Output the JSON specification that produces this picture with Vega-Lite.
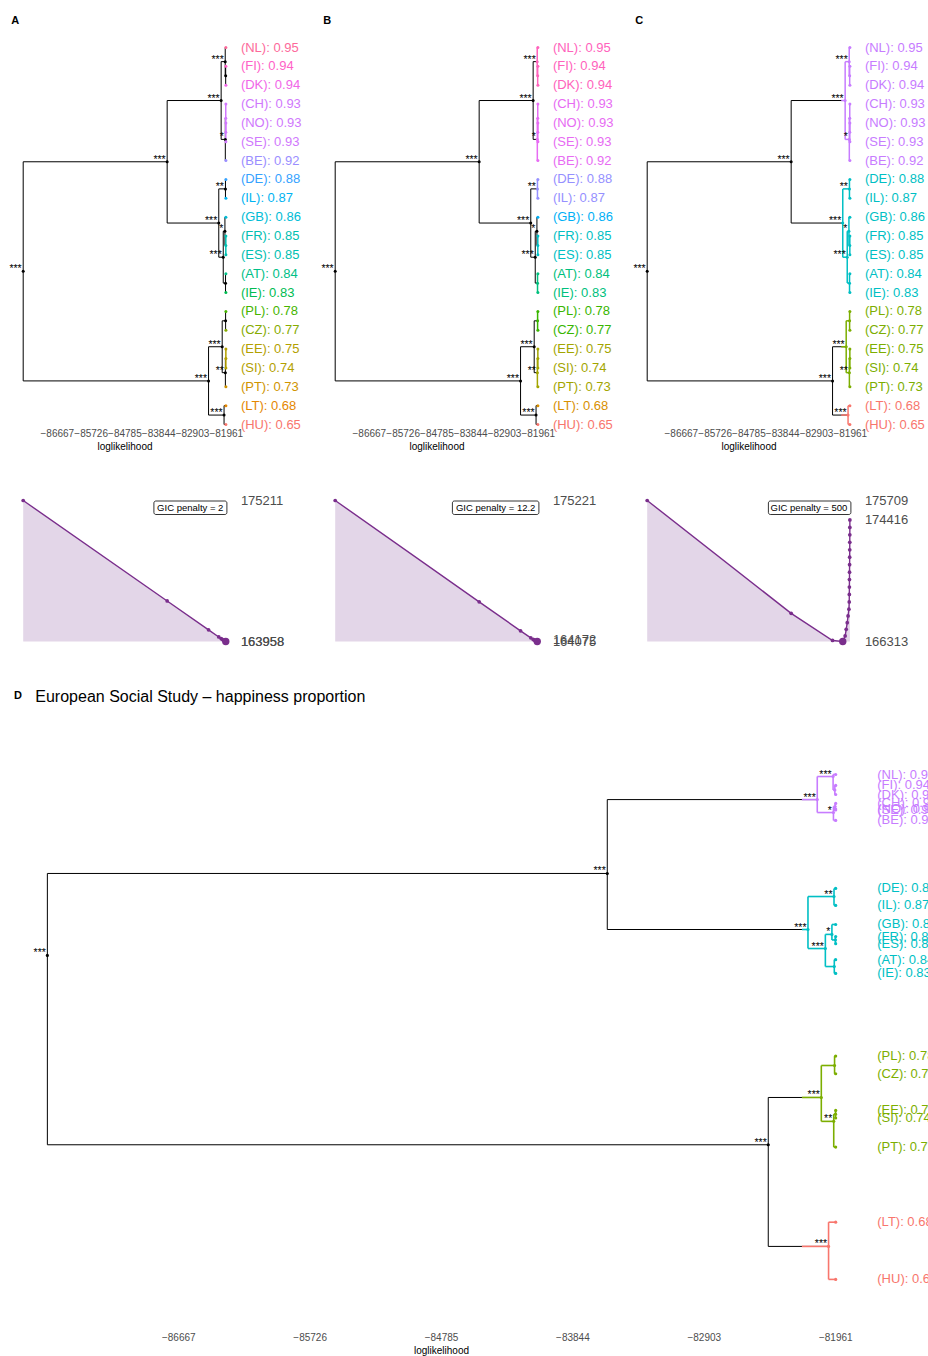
{
"$schema": "https://vega.github.io/schema/vega-lite/v6.json",
"padding": {"left": 9, "top": 14.5, "right": 0, "bottom": 0},
"config": {"view": {"stroke": null}, "font": "Liberation Sans", "axis": {"grid": false}},
"datasets": {
"edges": [{"pa":"Root","ch":"T"},{"pa":"Root","ch":"L"},{"pa":"T","ch":"P"},{"pa":"T","ch":"C"},{"pa":"P","ch":"P1"},{"pa":"P","ch":"P2"},{"pa":"P1","ch":"NL"},{"pa":"P1","ch":"FD"},{"pa":"FD","ch":"FI"},{"pa":"FD","ch":"DK"},{"pa":"P2","ch":"CNS"},{"pa":"P2","ch":"BE"},{"pa":"CNS","ch":"CH"},{"pa":"CNS","ch":"NS"},{"pa":"NS","ch":"NO"},{"pa":"NS","ch":"SE"},{"pa":"C","ch":"DI"},{"pa":"C","ch":"R"},{"pa":"DI","ch":"DE"},{"pa":"DI","ch":"IL"},{"pa":"R","ch":"GFE"},{"pa":"R","ch":"AI"},{"pa":"GFE","ch":"GB"},{"pa":"GFE","ch":"FE"},{"pa":"FE","ch":"FR"},{"pa":"FE","ch":"ES"},{"pa":"AI","ch":"AT"},{"pa":"AI","ch":"IE"},{"pa":"L","ch":"G"},{"pa":"L","ch":"LH"},{"pa":"G","ch":"PC"},{"pa":"G","ch":"ESP"},{"pa":"PC","ch":"PL"},{"pa":"PC","ch":"CZ"},{"pa":"ESP","ch":"ES2"},{"pa":"ESP","ch":"PT"},{"pa":"ES2","ch":"EE"},{"pa":"ES2","ch":"SI"},{"pa":"LH","ch":"LT"},{"pa":"LH","ch":"HU"}],
"nA": [
{"n":"Root","ll":-87604.5,"y":11.875,"col":"k","s":"***"},
{"n":"T","ll":-83594,"y":6.0625,"col":"k","s":"***"},
{"n":"L","ll":-82441,"y":17.6875,"col":"k","s":"***"},
{"n":"C","ll":-82156.5,"y":9.3125,"col":"k","s":"***"},
{"n":"P","ll":-82090,"y":2.8125,"col":"k","s":"***"},
{"n":"G","ll":-82061,"y":15.875,"col":"k","s":"***"},
{"n":"R","ll":-82032,"y":11.125,"col":"k","s":"***"},
{"n":"LH","ll":-82009,"y":19.5,"col":"k","s":"***"},
{"n":"GFE","ll":-81985,"y":9.75,"col":"k","s":"*"},
{"n":"P1","ll":-81976.5,"y":0.75,"col":"k","s":"***"},
{"n":"P2","ll":-81974,"y":4.875,"col":"k","s":"*"},
{"n":"ESP","ll":-81972,"y":17.25,"col":"k","s":"**"},
{"n":"DI","ll":-81970,"y":7.5,"col":"k","s":"**"},
{"n":"AI","ll":-81968,"y":12.5,"col":"k"},
{"n":"PC","ll":-81966,"y":14.5,"col":"k"},
{"n":"FD","ll":-81964,"y":1.5,"col":"k"},
{"n":"CNS","ll":-81962,"y":3.75,"col":"A14","cut":-81963},
{"n":"NS","ll":-81961,"y":4.5,"col":"A14"},
{"n":"FE","ll":-81960,"y":10.5,"col":"A09","cut":-81963},
{"n":"ES2","ll":-81959,"y":16.5,"col":"A04","cut":-81963},
{"n":"NL","ll":-81958,"y":0,"col":"A17","cut":-81963,"t":"(NL): 0.95"},
{"n":"FI","ll":-81958,"y":1,"col":"A16","cut":-81963,"t":"(FI): 0.94"},
{"n":"DK","ll":-81958,"y":2,"col":"A15","cut":-81963,"t":"(DK): 0.94"},
{"n":"CH","ll":-81958,"y":3,"col":"A14","t":"(CH): 0.93"},
{"n":"NO","ll":-81958,"y":4,"col":"A14","t":"(NO): 0.93"},
{"n":"SE","ll":-81958,"y":5,"col":"A14","t":"(SE): 0.93"},
{"n":"BE","ll":-81958,"y":6,"col":"A13","cut":-81963,"t":"(BE): 0.92"},
{"n":"DE","ll":-81958,"y":7,"col":"A12","cut":-81963,"t":"(DE): 0.88"},
{"n":"IL","ll":-81958,"y":8,"col":"A11","cut":-81963,"t":"(IL): 0.87"},
{"n":"GB","ll":-81958,"y":9,"col":"A10","cut":-81963,"t":"(GB): 0.86"},
{"n":"FR","ll":-81958,"y":10,"col":"A09","t":"(FR): 0.85"},
{"n":"ES","ll":-81958,"y":11,"col":"A09","t":"(ES): 0.85"},
{"n":"AT","ll":-81958,"y":12,"col":"A08","cut":-81963,"t":"(AT): 0.84"},
{"n":"IE","ll":-81958,"y":13,"col":"A07","cut":-81963,"t":"(IE): 0.83"},
{"n":"PL","ll":-81958,"y":14,"col":"A06","cut":-81963,"t":"(PL): 0.78"},
{"n":"CZ","ll":-81958,"y":15,"col":"A05","cut":-81963,"t":"(CZ): 0.77"},
{"n":"EE","ll":-81958,"y":16,"col":"A04","t":"(EE): 0.75"},
{"n":"SI","ll":-81958,"y":17,"col":"A04","t":"(SI): 0.74"},
{"n":"PT","ll":-81958,"y":18,"col":"A03","cut":-81963,"t":"(PT): 0.73"},
{"n":"LT","ll":-81958,"y":19,"col":"A02","cut":-81963,"t":"(LT): 0.68"},
{"n":"HU","ll":-81958,"y":20,"col":"A01","cut":-81963,"t":"(HU): 0.65"}
],
"nB": [
{"n":"Root","ll":-87604.5,"y":11.875,"col":"k","s":"***"},
{"n":"T","ll":-83594,"y":6.0625,"col":"k","s":"***"},
{"n":"L","ll":-82441,"y":17.6875,"col":"k","s":"***"},
{"n":"C","ll":-82156.5,"y":9.3125,"col":"k","s":"***"},
{"n":"P","ll":-82090,"y":2.8125,"col":"k","s":"***"},
{"n":"G","ll":-82061,"y":15.875,"col":"k","s":"***"},
{"n":"R","ll":-82032,"y":11.125,"col":"k","s":"***"},
{"n":"LH","ll":-82009,"y":19.5,"col":"k","s":"***"},
{"n":"GFE","ll":-81985,"y":9.75,"col":"k","s":"*"},
{"n":"P1","ll":-81976.5,"y":0.75,"col":"B10","cut":-81980,"s":"***"},
{"n":"P2","ll":-81974,"y":4.875,"col":"B09","cut":-81980,"s":"*"},
{"n":"ESP","ll":-81972,"y":17.25,"col":"B03","cut":-81980,"s":"**"},
{"n":"DI","ll":-81970,"y":7.5,"col":"B08","cut":-81980,"s":"**"},
{"n":"AI","ll":-81968,"y":12.5,"col":"B05","cut":-81980},
{"n":"PC","ll":-81966,"y":14.5,"col":"B04","cut":-81980},
{"n":"FD","ll":-81964,"y":1.5,"col":"B10"},
{"n":"CNS","ll":-81962,"y":3.75,"col":"B09"},
{"n":"NS","ll":-81961,"y":4.5,"col":"B09"},
{"n":"FE","ll":-81960,"y":10.5,"col":"B06","cut":-81980},
{"n":"ES2","ll":-81959,"y":16.5,"col":"B03"},
{"n":"NL","ll":-81958,"y":0,"col":"B10","t":"(NL): 0.95"},
{"n":"FI","ll":-81958,"y":1,"col":"B10","t":"(FI): 0.94"},
{"n":"DK","ll":-81958,"y":2,"col":"B10","t":"(DK): 0.94"},
{"n":"CH","ll":-81958,"y":3,"col":"B09","t":"(CH): 0.93"},
{"n":"NO","ll":-81958,"y":4,"col":"B09","t":"(NO): 0.93"},
{"n":"SE","ll":-81958,"y":5,"col":"B09","t":"(SE): 0.93"},
{"n":"BE","ll":-81958,"y":6,"col":"B09","t":"(BE): 0.92"},
{"n":"DE","ll":-81958,"y":7,"col":"B08","t":"(DE): 0.88"},
{"n":"IL","ll":-81958,"y":8,"col":"B08","t":"(IL): 0.87"},
{"n":"GB","ll":-81958,"y":9,"col":"B07","cut":-81980,"t":"(GB): 0.86"},
{"n":"FR","ll":-81958,"y":10,"col":"B06","t":"(FR): 0.85"},
{"n":"ES","ll":-81958,"y":11,"col":"B06","t":"(ES): 0.85"},
{"n":"AT","ll":-81958,"y":12,"col":"B05","t":"(AT): 0.84"},
{"n":"IE","ll":-81958,"y":13,"col":"B05","t":"(IE): 0.83"},
{"n":"PL","ll":-81958,"y":14,"col":"B04","t":"(PL): 0.78"},
{"n":"CZ","ll":-81958,"y":15,"col":"B04","t":"(CZ): 0.77"},
{"n":"EE","ll":-81958,"y":16,"col":"B03","t":"(EE): 0.75"},
{"n":"SI","ll":-81958,"y":17,"col":"B03","t":"(SI): 0.74"},
{"n":"PT","ll":-81958,"y":18,"col":"B03","t":"(PT): 0.73"},
{"n":"LT","ll":-81958,"y":19,"col":"B02","cut":-81980,"t":"(LT): 0.68"},
{"n":"HU","ll":-81958,"y":20,"col":"B01","cut":-81980,"t":"(HU): 0.65"}
],
"nC": [
{"n":"Root","ll":-87604.5,"y":11.875,"col":"k","s":"***"},
{"n":"T","ll":-83594,"y":6.0625,"col":"k","s":"***"},
{"n":"L","ll":-82441,"y":17.6875,"col":"k","s":"***"},
{"n":"C","ll":-82156.5,"y":9.3125,"col":"C3","cut":-82200,"s":"***"},
{"n":"P","ll":-82090,"y":2.8125,"col":"C4","cut":-82200,"s":"***"},
{"n":"G","ll":-82061,"y":15.875,"col":"C2","cut":-82200,"s":"***"},
{"n":"R","ll":-82032,"y":11.125,"col":"C3","s":"***"},
{"n":"LH","ll":-82009,"y":19.5,"col":"C1","cut":-82200,"s":"***"},
{"n":"GFE","ll":-81985,"y":9.75,"col":"C3","s":"*"},
{"n":"P1","ll":-81976.5,"y":0.75,"col":"C4","s":"***"},
{"n":"P2","ll":-81974,"y":4.875,"col":"C4","s":"*"},
{"n":"ESP","ll":-81972,"y":17.25,"col":"C2","s":"**"},
{"n":"DI","ll":-81970,"y":7.5,"col":"C3","s":"**"},
{"n":"AI","ll":-81968,"y":12.5,"col":"C3"},
{"n":"PC","ll":-81966,"y":14.5,"col":"C2"},
{"n":"FD","ll":-81964,"y":1.5,"col":"C4"},
{"n":"CNS","ll":-81962,"y":3.75,"col":"C4"},
{"n":"NS","ll":-81961,"y":4.5,"col":"C4"},
{"n":"FE","ll":-81960,"y":10.5,"col":"C3"},
{"n":"ES2","ll":-81959,"y":16.5,"col":"C2"},
{"n":"NL","ll":-81958,"y":0,"col":"C4","t":"(NL): 0.95"},
{"n":"FI","ll":-81958,"y":1,"col":"C4","t":"(FI): 0.94"},
{"n":"DK","ll":-81958,"y":2,"col":"C4","t":"(DK): 0.94"},
{"n":"CH","ll":-81958,"y":3,"col":"C4","t":"(CH): 0.93"},
{"n":"NO","ll":-81958,"y":4,"col":"C4","t":"(NO): 0.93"},
{"n":"SE","ll":-81958,"y":5,"col":"C4","t":"(SE): 0.93"},
{"n":"BE","ll":-81958,"y":6,"col":"C4","t":"(BE): 0.92"},
{"n":"DE","ll":-81958,"y":7,"col":"C3","t":"(DE): 0.88"},
{"n":"IL","ll":-81958,"y":8,"col":"C3","t":"(IL): 0.87"},
{"n":"GB","ll":-81958,"y":9,"col":"C3","t":"(GB): 0.86"},
{"n":"FR","ll":-81958,"y":10,"col":"C3","t":"(FR): 0.85"},
{"n":"ES","ll":-81958,"y":11,"col":"C3","t":"(ES): 0.85"},
{"n":"AT","ll":-81958,"y":12,"col":"C3","t":"(AT): 0.84"},
{"n":"IE","ll":-81958,"y":13,"col":"C3","t":"(IE): 0.83"},
{"n":"PL","ll":-81958,"y":14,"col":"C2","t":"(PL): 0.78"},
{"n":"CZ","ll":-81958,"y":15,"col":"C2","t":"(CZ): 0.77"},
{"n":"EE","ll":-81958,"y":16,"col":"C2","t":"(EE): 0.75"},
{"n":"SI","ll":-81958,"y":17,"col":"C2","t":"(SI): 0.74"},
{"n":"PT","ll":-81958,"y":18,"col":"C2","t":"(PT): 0.73"},
{"n":"LT","ll":-81958,"y":19,"col":"C1","t":"(LT): 0.68"},
{"n":"HU","ll":-81958,"y":20,"col":"C1","t":"(HU): 0.65"}
],
"nD": [
{"n":"Root","ll":-87604.5,"y":0.8425,"col":"k","s":"***"},
{"n":"T","ll":-83594,"y":0.8912,"col":"k","s":"***"},
{"n":"L","ll":-82441,"y":0.73,"col":"k","s":"***"},
{"n":"C","ll":-82156.5,"y":0.8579,"col":"C3","cut":-82200,"s":"***"},
{"n":"P","ll":-82090,"y":0.9351,"col":"C4","cut":-82200,"s":"***"},
{"n":"G","ll":-82061,"y":0.7581,"col":"C2","cut":-82200,"s":"***"},
{"n":"R","ll":-82032,"y":0.8466,"col":"C3","s":"***"},
{"n":"LH","ll":-82009,"y":0.6696,"col":"C1","cut":-82200,"s":"***"},
{"n":"GFE","ll":-81985,"y":0.855,"col":"C3","s":"*"},
{"n":"P1","ll":-81976.5,"y":0.9488,"col":"C4","s":"***"},
{"n":"P2","ll":-81974,"y":0.9274,"col":"C4","s":"*"},
{"n":"ESP","ll":-81972,"y":0.7439,"col":"C2","s":"**"},
{"n":"DI","ll":-81970,"y":0.8775,"col":"C3","s":"**"},
{"n":"AI","ll":-81968,"y":0.8359,"col":"C3"},
{"n":"PC","ll":-81966,"y":0.7771,"col":"C2"},
{"n":"FD","ll":-81964,"y":0.9408,"col":"C4"},
{"n":"CNS","ll":-81962,"y":0.931,"col":"C4"},
{"n":"NS","ll":-81961,"y":0.9292,"col":"C4"},
{"n":"FE","ll":-81960,"y":0.8517,"col":"C3"},
{"n":"ES2","ll":-81959,"y":0.7482,"col":"C2"},
{"n":"NL","ll":-81958,"y":0.95,"col":"C4","t":"(NL): 0.95"},
{"n":"FI","ll":-81958,"y":0.9435,"col":"C4","t":"(FI): 0.94"},
{"n":"DK","ll":-81958,"y":0.9381,"col":"C4","t":"(DK): 0.94"},
{"n":"CH","ll":-81958,"y":0.9328,"col":"C4","t":"(CH): 0.93"},
{"n":"NO","ll":-81958,"y":0.9295,"col":"C4","t":"(NO): 0.93"},
{"n":"SE","ll":-81958,"y":0.9289,"col":"C4","t":"(SE): 0.93"},
{"n":"BE","ll":-81958,"y":0.9227,"col":"C4","t":"(BE): 0.92"},
{"n":"DE","ll":-81958,"y":0.8823,"col":"C3","t":"(DE): 0.88"},
{"n":"IL","ll":-81958,"y":0.8722,"col":"C3","t":"(IL): 0.87"},
{"n":"GB","ll":-81958,"y":0.8609,"col":"C3","t":"(GB): 0.86"},
{"n":"FR","ll":-81958,"y":0.8537,"col":"C3","t":"(FR): 0.85"},
{"n":"ES","ll":-81958,"y":0.8495,"col":"C3","t":"(ES): 0.85"},
{"n":"AT","ll":-81958,"y":0.84,"col":"C3","t":"(AT): 0.84"},
{"n":"IE","ll":-81958,"y":0.8318,"col":"C3","t":"(IE): 0.83"},
{"n":"PL","ll":-81958,"y":0.7827,"col":"C2","t":"(PL): 0.78"},
{"n":"CZ","ll":-81958,"y":0.7722,"col":"C2","t":"(CZ): 0.77"},
{"n":"EE","ll":-81958,"y":0.7504,"col":"C2","t":"(EE): 0.75"},
{"n":"SI","ll":-81958,"y":0.7459,"col":"C2","t":"(SI): 0.74"},
{"n":"PT","ll":-81958,"y":0.7286,"col":"C2","t":"(PT): 0.73"},
{"n":"LT","ll":-81958,"y":0.684,"col":"C1","t":"(LT): 0.68"},
{"n":"HU","ll":-81958,"y":0.65,"col":"C1","t":"(HU): 0.65"}
],
"gic": [
{"p":"A","k":1,"ll":-87604.5,"g":175211},{"p":"A","k":2,"ll":-83594,"g":167192},{"p":"A","k":3,"ll":-82441,"g":164888},{"p":"A","k":4,"ll":-82156.5,"g":164321},{"p":"A","k":5,"ll":-82090,"g":164190},{"p":"A","k":6,"ll":-82061,"g":164134},{"p":"A","k":7,"ll":-82032,"g":164078},{"p":"A","k":8,"ll":-82009,"g":164034},{"p":"A","k":9,"ll":-81985,"g":163988},{"p":"A","k":10,"ll":-81976.5,"g":163973},{"p":"A","k":11,"ll":-81974,"g":163970},{"p":"A","k":12,"ll":-81972,"g":163968},{"p":"A","k":13,"ll":-81970,"g":163966},{"p":"A","k":14,"ll":-81968,"g":163964},{"p":"A","k":15,"ll":-81966,"g":163962},{"p":"A","k":16,"ll":-81964,"g":163960},{"p":"A","k":17,"ll":-81962,"g":163958,"m":1},{"p":"A","k":18,"ll":-81961,"g":163958},{"p":"A","k":19,"ll":-81960,"g":163958},{"p":"A","k":20,"ll":-81959,"g":163958},{"p":"A","k":21,"ll":-81958,"g":163958},
{"p":"B","k":1,"ll":-87604.5,"g":175221.2},{"p":"B","k":2,"ll":-83594,"g":167212.4},{"p":"B","k":3,"ll":-82441,"g":164918.6},{"p":"B","k":4,"ll":-82156.5,"g":164361.8},{"p":"B","k":5,"ll":-82090,"g":164241},{"p":"B","k":6,"ll":-82061,"g":164195.2},{"p":"B","k":7,"ll":-82032,"g":164149.4},{"p":"B","k":8,"ll":-82009,"g":164115.6},{"p":"B","k":9,"ll":-81985,"g":164079.8},{"p":"B","k":10,"ll":-81976.5,"g":164075,"m":1},{"p":"B","k":11,"ll":-81974,"g":164082.2},{"p":"B","k":12,"ll":-81972,"g":164090.4},{"p":"B","k":13,"ll":-81970,"g":164098.6},{"p":"B","k":14,"ll":-81968,"g":164106.8},{"p":"B","k":15,"ll":-81966,"g":164115},{"p":"B","k":16,"ll":-81964,"g":164123.2},{"p":"B","k":17,"ll":-81962,"g":164131.4},{"p":"B","k":18,"ll":-81961,"g":164141.6},{"p":"B","k":19,"ll":-81960,"g":164151.8},{"p":"B","k":20,"ll":-81959,"g":164162},{"p":"B","k":21,"ll":-81958,"g":164172.2},
{"p":"C","k":1,"ll":-87604.5,"g":175709},{"p":"C","k":2,"ll":-83594,"g":168188},{"p":"C","k":3,"ll":-82441,"g":166382},{"p":"C","k":4,"ll":-82156.5,"g":166313,"m":1},{"p":"C","k":5,"ll":-82090,"g":166680},{"p":"C","k":6,"ll":-82061,"g":167122},{"p":"C","k":7,"ll":-82032,"g":167564},{"p":"C","k":8,"ll":-82009,"g":168018},{"p":"C","k":9,"ll":-81985,"g":168470},{"p":"C","k":10,"ll":-81976.5,"g":168953},{"p":"C","k":11,"ll":-81974,"g":169448},{"p":"C","k":12,"ll":-81972,"g":169944},{"p":"C","k":13,"ll":-81970,"g":170440},{"p":"C","k":14,"ll":-81968,"g":170936},{"p":"C","k":15,"ll":-81966,"g":171432},{"p":"C","k":16,"ll":-81964,"g":171928},{"p":"C","k":17,"ll":-81962,"g":172424},{"p":"C","k":18,"ll":-81961,"g":172922},{"p":"C","k":19,"ll":-81960,"g":173420},{"p":"C","k":20,"ll":-81959,"g":173918},{"p":"C","k":21,"ll":-81958,"g":174416}
],
"gicBox": [
{"p":"A","ll":-81958,"g":175211,"t":"GIC penalty = 2"},
{"p":"B","ll":-81958,"g":175221.2,"t":"GIC penalty = 12.2"},
{"p":"C","ll":-81958,"g":175709,"t":"GIC penalty = 500"}
],
"gicLab": [
{"p":"A","ll":-81958,"g":175211,"t":"175211"},{"p":"A","ll":-81958,"g":163958,"t":"163958"},{"p":"A","ll":-81958,"g":163958,"t":"163958"},
{"p":"B","ll":-81958,"g":175221.2,"t":"175221"},{"p":"B","ll":-81958,"g":164075,"t":"164075"},{"p":"B","ll":-81958,"g":164172.2,"t":"164172"},
{"p":"C","ll":-81958,"g":175709,"t":"175709"},{"p":"C","ll":-81958,"g":174416,"t":"174416"},{"p":"C","ll":-81958,"g":166313,"t":"166313"}
]
},
"columns": 3,
"align": "none",
"bounds": "flush",
"spacing": {"row": 76, "column": 109},
"resolve": {"scale": {"x": "independent", "y": "independent", "color": "independent"}},
"concat": [
{
"width": 203, "height": 377,
"title": {"text": "A", "anchor": "start", "frame": "group", "dx": -11.7, "offset": 16, "fontSize": 11, "fontWeight": "bold", "font": "Liberation Sans", "color": "#000000"},
"encoding": {
"x": {"field": "ll", "type": "quantitative", "scale": {"domain": [-87610, -81955], "nice": false, "zero": false}, "axis": {"values": [-86667,-85726,-84785,-83844,-82903,-81961], "format": "d", "title": "loglikelihood", "domain": false, "ticks": false, "grid": false, "labelFont": "Liberation Sans", "labelFontSize": 10, "labelColor": "#4D4D4D", "labelPadding": 4, "labelOverlap": false, "labelFlush": false, "labelBound": false, "titleFont": "Liberation Sans", "titleFontSize": 10, "titleFontWeight": "normal", "titleColor": "#000000", "titlePadding": 3}},
"y": {"field": "y", "type": "quantitative", "scale": {"domain": [0, 20], "reverse": true, "nice": false, "zero": false}, "axis": null},
"color": {"field": "col", "type": "nominal", "legend": null, "scale": {"domain": ["k","A01","A02","A03","A04","A05","A06","A07","A08","A09","A10","A11","A12","A13","A14","A15","A16","A17","B01","B02","B03","B04","B05","B06","B07","B08","B09","B10","C1","C2","C3","C4"], "range": ["#000000","#F8766D","#E58700","#D09400","#B3A000","#87AC00","#46B500","#00BC51","#00C087","#00C0B2","#00BCD6","#00B3F2","#35A2FF","#9A8EFF","#D078FD","#F166E8","#FF61C7","#FD6A9B","#F8766D","#D89000","#A3A500","#39B600","#00BF7D","#00BFC4","#00B0F6","#9590FF","#E76BF3","#FF62BC","#F8766D","#7CAE00","#00BFC4","#C77CFF"]}}
},
"layer": [
{"data": {"name": "edges"}, "transform": [{"lookup": "pa", "from": {"data": {"name": "nA"}, "key": "n", "fields": ["ll", "y", "col"]}}, {"lookup": "ch", "from": {"data": {"name": "nA"}, "key": "n", "fields": ["y"]}, "as": ["cy"]}], "mark": {"type": "rule"}, "encoding": {"y2": {"field": "cy"}, "strokeWidth": {"condition": {"test": "datum.col != 'k'", "value": 1.5}, "value": 1}}},
{"data": {"name": "edges"}, "transform": [{"lookup": "pa", "from": {"data": {"name": "nA"}, "key": "n", "fields": ["ll", "col"]}}, {"lookup": "ch", "from": {"data": {"name": "nA"}, "key": "n", "fields": ["ll", "y"]}, "as": ["cll", "y"]}], "mark": {"type": "rule"}, "encoding": {"x2": {"field": "cll"}, "strokeWidth": {"condition": {"test": "datum.col != 'k'", "value": 1.5}, "value": 1}}},
{"data": {"name": "edges"}, "transform": [{"lookup": "ch", "from": {"data": {"name": "nA"}, "key": "n", "fields": ["cut", "ll", "y", "col"]}, "as": ["ll", "cll", "y", "col"]}, {"filter": "isValid(datum.ll)"}], "mark": {"type": "rule", "strokeWidth": 1.5}, "encoding": {"x2": {"field": "cll"}}},
{"data": {"name": "nA"}, "mark": {"type": "circle", "size": 9, "opacity": 1}},
{"data": {"name": "nA"}, "transform": [{"filter": "isValid(datum.s)"}], "mark": {"type": "text", "align": "right", "baseline": "middle", "dx": -1.5, "dy": -2, "fontSize": 10.5, "font": "Liberation Sans"}, "encoding": {"text": {"field": "s"}, "color": {"value": "#000000"}}},
{"data": {"name": "nA"}, "transform": [{"filter": "isValid(datum.t)"}], "mark": {"type": "text", "align": "left", "baseline": "middle", "dx": 15, "fontSize": 13, "font": "Liberation Sans"}, "encoding": {"text": {"field": "t"}}}
]
},
{
"width": 203, "height": 377,
"title": {"text": "B", "anchor": "start", "frame": "group", "dx": -11.7, "offset": 16, "fontSize": 11, "fontWeight": "bold", "font": "Liberation Sans", "color": "#000000"},
"encoding": {
"x": {"field": "ll", "type": "quantitative", "scale": {"domain": [-87610, -81955], "nice": false, "zero": false}, "axis": {"values": [-86667,-85726,-84785,-83844,-82903,-81961], "format": "d", "title": "loglikelihood", "domain": false, "ticks": false, "grid": false, "labelFont": "Liberation Sans", "labelFontSize": 10, "labelColor": "#4D4D4D", "labelPadding": 4, "labelOverlap": false, "labelFlush": false, "labelBound": false, "titleFont": "Liberation Sans", "titleFontSize": 10, "titleFontWeight": "normal", "titleColor": "#000000", "titlePadding": 3}},
"y": {"field": "y", "type": "quantitative", "scale": {"domain": [0, 20], "reverse": true, "nice": false, "zero": false}, "axis": null},
"color": {"field": "col", "type": "nominal", "legend": null, "scale": {"domain": ["k","A01","A02","A03","A04","A05","A06","A07","A08","A09","A10","A11","A12","A13","A14","A15","A16","A17","B01","B02","B03","B04","B05","B06","B07","B08","B09","B10","C1","C2","C3","C4"], "range": ["#000000","#F8766D","#E58700","#D09400","#B3A000","#87AC00","#46B500","#00BC51","#00C087","#00C0B2","#00BCD6","#00B3F2","#35A2FF","#9A8EFF","#D078FD","#F166E8","#FF61C7","#FD6A9B","#F8766D","#D89000","#A3A500","#39B600","#00BF7D","#00BFC4","#00B0F6","#9590FF","#E76BF3","#FF62BC","#F8766D","#7CAE00","#00BFC4","#C77CFF"]}}
},
"layer": [
{"data": {"name": "edges"}, "transform": [{"lookup": "pa", "from": {"data": {"name": "nB"}, "key": "n", "fields": ["ll", "y", "col"]}}, {"lookup": "ch", "from": {"data": {"name": "nB"}, "key": "n", "fields": ["y"]}, "as": ["cy"]}], "mark": {"type": "rule"}, "encoding": {"y2": {"field": "cy"}, "strokeWidth": {"condition": {"test": "datum.col != 'k'", "value": 1.5}, "value": 1}}},
{"data": {"name": "edges"}, "transform": [{"lookup": "pa", "from": {"data": {"name": "nB"}, "key": "n", "fields": ["ll", "col"]}}, {"lookup": "ch", "from": {"data": {"name": "nB"}, "key": "n", "fields": ["ll", "y"]}, "as": ["cll", "y"]}], "mark": {"type": "rule"}, "encoding": {"x2": {"field": "cll"}, "strokeWidth": {"condition": {"test": "datum.col != 'k'", "value": 1.5}, "value": 1}}},
{"data": {"name": "edges"}, "transform": [{"lookup": "ch", "from": {"data": {"name": "nB"}, "key": "n", "fields": ["cut", "ll", "y", "col"]}, "as": ["ll", "cll", "y", "col"]}, {"filter": "isValid(datum.ll)"}], "mark": {"type": "rule", "strokeWidth": 1.5}, "encoding": {"x2": {"field": "cll"}}},
{"data": {"name": "nB"}, "mark": {"type": "circle", "size": 9, "opacity": 1}},
{"data": {"name": "nB"}, "transform": [{"filter": "isValid(datum.s)"}], "mark": {"type": "text", "align": "right", "baseline": "middle", "dx": -1.5, "dy": -2, "fontSize": 10.5, "font": "Liberation Sans"}, "encoding": {"text": {"field": "s"}, "color": {"value": "#000000"}}},
{"data": {"name": "nB"}, "transform": [{"filter": "isValid(datum.t)"}], "mark": {"type": "text", "align": "left", "baseline": "middle", "dx": 15, "fontSize": 13, "font": "Liberation Sans"}, "encoding": {"text": {"field": "t"}}}
]
},
{
"width": 203, "height": 377,
"title": {"text": "C", "anchor": "start", "frame": "group", "dx": -11.7, "offset": 16, "fontSize": 11, "fontWeight": "bold", "font": "Liberation Sans", "color": "#000000"},
"encoding": {
"x": {"field": "ll", "type": "quantitative", "scale": {"domain": [-87610, -81955], "nice": false, "zero": false}, "axis": {"values": [-86667,-85726,-84785,-83844,-82903,-81961], "format": "d", "title": "loglikelihood", "domain": false, "ticks": false, "grid": false, "labelFont": "Liberation Sans", "labelFontSize": 10, "labelColor": "#4D4D4D", "labelPadding": 4, "labelOverlap": false, "labelFlush": false, "labelBound": false, "titleFont": "Liberation Sans", "titleFontSize": 10, "titleFontWeight": "normal", "titleColor": "#000000", "titlePadding": 3}},
"y": {"field": "y", "type": "quantitative", "scale": {"domain": [0, 20], "reverse": true, "nice": false, "zero": false}, "axis": null},
"color": {"field": "col", "type": "nominal", "legend": null, "scale": {"domain": ["k","A01","A02","A03","A04","A05","A06","A07","A08","A09","A10","A11","A12","A13","A14","A15","A16","A17","B01","B02","B03","B04","B05","B06","B07","B08","B09","B10","C1","C2","C3","C4"], "range": ["#000000","#F8766D","#E58700","#D09400","#B3A000","#87AC00","#46B500","#00BC51","#00C087","#00C0B2","#00BCD6","#00B3F2","#35A2FF","#9A8EFF","#D078FD","#F166E8","#FF61C7","#FD6A9B","#F8766D","#D89000","#A3A500","#39B600","#00BF7D","#00BFC4","#00B0F6","#9590FF","#E76BF3","#FF62BC","#F8766D","#7CAE00","#00BFC4","#C77CFF"]}}
},
"layer": [
{"data": {"name": "edges"}, "transform": [{"lookup": "pa", "from": {"data": {"name": "nC"}, "key": "n", "fields": ["ll", "y", "col"]}}, {"lookup": "ch", "from": {"data": {"name": "nC"}, "key": "n", "fields": ["y"]}, "as": ["cy"]}], "mark": {"type": "rule"}, "encoding": {"y2": {"field": "cy"}, "strokeWidth": {"condition": {"test": "datum.col != 'k'", "value": 1.5}, "value": 1}}},
{"data": {"name": "edges"}, "transform": [{"lookup": "pa", "from": {"data": {"name": "nC"}, "key": "n", "fields": ["ll", "col"]}}, {"lookup": "ch", "from": {"data": {"name": "nC"}, "key": "n", "fields": ["ll", "y"]}, "as": ["cll", "y"]}], "mark": {"type": "rule"}, "encoding": {"x2": {"field": "cll"}, "strokeWidth": {"condition": {"test": "datum.col != 'k'", "value": 1.5}, "value": 1}}},
{"data": {"name": "edges"}, "transform": [{"lookup": "ch", "from": {"data": {"name": "nC"}, "key": "n", "fields": ["cut", "ll", "y", "col"]}, "as": ["ll", "cll", "y", "col"]}, {"filter": "isValid(datum.ll)"}], "mark": {"type": "rule", "strokeWidth": 1.5}, "encoding": {"x2": {"field": "cll"}}},
{"data": {"name": "nC"}, "mark": {"type": "circle", "size": 9, "opacity": 1}},
{"data": {"name": "nC"}, "transform": [{"filter": "isValid(datum.s)"}], "mark": {"type": "text", "align": "right", "baseline": "middle", "dx": -1.5, "dy": -2, "fontSize": 10.5, "font": "Liberation Sans"}, "encoding": {"text": {"field": "s"}, "color": {"value": "#000000"}}},
{"data": {"name": "nC"}, "transform": [{"filter": "isValid(datum.t)"}], "mark": {"type": "text", "align": "left", "baseline": "middle", "dx": 15, "fontSize": 13, "font": "Liberation Sans"}, "encoding": {"text": {"field": "t"}}}
]
},
{
"width": 203, "height": 141,
"encoding": {
"x": {"field": "ll", "type": "quantitative", "scale": {"domain": [-87610, -81955], "nice": false, "zero": false}, "axis": null},
"y": {"field": "g", "type": "quantitative", "scale": {"domain": [163958, 175211], "nice": false, "zero": false}, "axis": null}
},
"layer": [
{"data": {"name": "gic"}, "transform": [{"filter": {"field": "p", "equal": "A"}}], "mark": {"type": "area", "color": "#E3D6E8", "opacity": 1}, "encoding": {"y2": {"datum": 163958}}},
{"data": {"name": "gic"}, "transform": [{"filter": {"field": "p", "equal": "A"}}], "mark": {"type": "line", "color": "#7A2E8C", "strokeWidth": 1.4}},
{"data": {"name": "gic"}, "transform": [{"filter": {"field": "p", "equal": "A"}}], "mark": {"type": "circle", "color": "#7A2E8C", "size": 14, "opacity": 1}},
{"data": {"name": "gic"}, "transform": [{"filter": {"field": "p", "equal": "A"}}, {"filter": "datum.m == 1"}], "mark": {"type": "circle", "color": "#7A2E8C", "size": 55, "opacity": 1}},
{"data": {"name": "gicBox"}, "transform": [{"filter": {"field": "p", "equal": "A"}}], "mark": {"type": "rect", "fill": "#FFFFFF", "stroke": "#000000", "strokeWidth": 0.8, "cornerRadius": 2, "xOffset": -72, "x2Offset": 1, "yOffset": 0.5, "y2Offset": 14}, "encoding": {"x2": {"field": "ll"}, "y2": {"field": "g"}}},
{"data": {"name": "gicBox"}, "transform": [{"filter": {"field": "p", "equal": "A"}}], "mark": {"type": "text", "align": "right", "baseline": "middle", "dx": -2.5, "dy": 7.5, "fontSize": 9.5, "font": "Liberation Sans", "color": "#000000"}, "encoding": {"text": {"field": "t"}}},
{"data": {"name": "gicLab"}, "transform": [{"filter": {"field": "p", "equal": "A"}}], "mark": {"type": "text", "align": "left", "baseline": "middle", "dx": 15, "fontSize": 13, "font": "Liberation Sans", "color": "#4D4D4D"}, "encoding": {"text": {"field": "t"}}}
]
},
{
"width": 203, "height": 141,
"encoding": {
"x": {"field": "ll", "type": "quantitative", "scale": {"domain": [-87610, -81955], "nice": false, "zero": false}, "axis": null},
"y": {"field": "g", "type": "quantitative", "scale": {"domain": [164075, 175221.2], "nice": false, "zero": false}, "axis": null}
},
"layer": [
{"data": {"name": "gic"}, "transform": [{"filter": {"field": "p", "equal": "B"}}], "mark": {"type": "area", "color": "#E3D6E8", "opacity": 1}, "encoding": {"y2": {"datum": 164075}}},
{"data": {"name": "gic"}, "transform": [{"filter": {"field": "p", "equal": "B"}}], "mark": {"type": "line", "color": "#7A2E8C", "strokeWidth": 1.4}},
{"data": {"name": "gic"}, "transform": [{"filter": {"field": "p", "equal": "B"}}], "mark": {"type": "circle", "color": "#7A2E8C", "size": 14, "opacity": 1}},
{"data": {"name": "gic"}, "transform": [{"filter": {"field": "p", "equal": "B"}}, {"filter": "datum.m == 1"}], "mark": {"type": "circle", "color": "#7A2E8C", "size": 55, "opacity": 1}},
{"data": {"name": "gicBox"}, "transform": [{"filter": {"field": "p", "equal": "B"}}], "mark": {"type": "rect", "fill": "#FFFFFF", "stroke": "#000000", "strokeWidth": 0.8, "cornerRadius": 2, "xOffset": -85.5, "x2Offset": 1, "yOffset": 0.5, "y2Offset": 14}, "encoding": {"x2": {"field": "ll"}, "y2": {"field": "g"}}},
{"data": {"name": "gicBox"}, "transform": [{"filter": {"field": "p", "equal": "B"}}], "mark": {"type": "text", "align": "right", "baseline": "middle", "dx": -2.5, "dy": 7.5, "fontSize": 9.5, "font": "Liberation Sans", "color": "#000000"}, "encoding": {"text": {"field": "t"}}},
{"data": {"name": "gicLab"}, "transform": [{"filter": {"field": "p", "equal": "B"}}], "mark": {"type": "text", "align": "left", "baseline": "middle", "dx": 15, "fontSize": 13, "font": "Liberation Sans", "color": "#4D4D4D"}, "encoding": {"text": {"field": "t"}}}
]
},
{
"width": 203, "height": 141,
"encoding": {
"x": {"field": "ll", "type": "quantitative", "scale": {"domain": [-87610, -81955], "nice": false, "zero": false}, "axis": null},
"y": {"field": "g", "type": "quantitative", "scale": {"domain": [166313, 175709], "nice": false, "zero": false}, "axis": null}
},
"layer": [
{"data": {"name": "gic"}, "transform": [{"filter": {"field": "p", "equal": "C"}}], "mark": {"type": "area", "color": "#E3D6E8", "opacity": 1}, "encoding": {"y2": {"datum": 166313}}},
{"data": {"name": "gic"}, "transform": [{"filter": {"field": "p", "equal": "C"}}], "mark": {"type": "line", "color": "#7A2E8C", "strokeWidth": 1.4}},
{"data": {"name": "gic"}, "transform": [{"filter": {"field": "p", "equal": "C"}}], "mark": {"type": "circle", "color": "#7A2E8C", "size": 14, "opacity": 1}},
{"data": {"name": "gic"}, "transform": [{"filter": {"field": "p", "equal": "C"}}, {"filter": "datum.m == 1"}], "mark": {"type": "circle", "color": "#7A2E8C", "size": 55, "opacity": 1}},
{"data": {"name": "gicBox"}, "transform": [{"filter": {"field": "p", "equal": "C"}}], "mark": {"type": "rect", "fill": "#FFFFFF", "stroke": "#000000", "strokeWidth": 0.8, "cornerRadius": 2, "xOffset": -81.5, "x2Offset": 1, "yOffset": 0.5, "y2Offset": 14}, "encoding": {"x2": {"field": "ll"}, "y2": {"field": "g"}}},
{"data": {"name": "gicBox"}, "transform": [{"filter": {"field": "p", "equal": "C"}}], "mark": {"type": "text", "align": "right", "baseline": "middle", "dx": -2.5, "dy": 7.5, "fontSize": 9.5, "font": "Liberation Sans", "color": "#000000"}, "encoding": {"text": {"field": "t"}}},
{"data": {"name": "gicLab"}, "transform": [{"filter": {"field": "p", "equal": "C"}}], "mark": {"type": "text", "align": "left", "baseline": "middle", "dx": 15, "fontSize": 13, "font": "Liberation Sans", "color": "#4D4D4D"}, "encoding": {"text": {"field": "t"}}}
]
},
{
"width": 203, "height": 611,
"title": {"text": "European Social Study – happiness proportion", "anchor": "start", "frame": "group", "dx": 12.3, "offset": -15.5, "fontSize": 16, "fontWeight": "normal", "font": "Liberation Sans", "color": "#000000"},
"encoding": {
"x": {"field": "ll", "type": "quantitative", "scale": {"domain": [-87779, -81791], "range": [0, 836], "nice": false, "zero": false}, "axis": {"values": [-86667,-85726,-84785,-83844,-82903,-81961], "format": "d", "title": "loglikelihood", "domain": false, "ticks": false, "grid": false, "labelFont": "Liberation Sans", "labelFontSize": 10, "labelColor": "#4D4D4D", "labelPadding": 4, "labelOverlap": false, "labelFlush": false, "labelBound": false, "titleFont": "Liberation Sans", "titleFontSize": 10, "titleFontWeight": "normal", "titleColor": "#000000", "titlePadding": 3}},
"y": {"field": "y", "type": "quantitative", "scale": {"domain": [0.62083, 0.98387], "nice": false, "zero": false}, "axis": {"title": "D", "labels": false, "ticks": false, "domain": false, "grid": false, "titleAngle": 0, "titleFont": "Liberation Sans", "titleFontSize": 11, "titleFontWeight": "bold", "titleColor": "#000000", "titleAlign": "left", "titleBaseline": "middle", "titleX": -9.5, "titleY": -22}},
"color": {"field": "col", "type": "nominal", "legend": null, "scale": {"domain": ["k","A01","A02","A03","A04","A05","A06","A07","A08","A09","A10","A11","A12","A13","A14","A15","A16","A17","B01","B02","B03","B04","B05","B06","B07","B08","B09","B10","C1","C2","C3","C4"], "range": ["#000000","#F8766D","#E58700","#D09400","#B3A000","#87AC00","#46B500","#00BC51","#00C087","#00C0B2","#00BCD6","#00B3F2","#35A2FF","#9A8EFF","#D078FD","#F166E8","#FF61C7","#FD6A9B","#F8766D","#D89000","#A3A500","#39B600","#00BF7D","#00BFC4","#00B0F6","#9590FF","#E76BF3","#FF62BC","#F8766D","#7CAE00","#00BFC4","#C77CFF"]}}
},
"layer": [
{"data": {"name": "edges"}, "transform": [{"lookup": "pa", "from": {"data": {"name": "nD"}, "key": "n", "fields": ["ll", "y", "col"]}}, {"lookup": "ch", "from": {"data": {"name": "nD"}, "key": "n", "fields": ["y"]}, "as": ["cy"]}], "mark": {"type": "rule"}, "encoding": {"y2": {"field": "cy"}, "strokeWidth": {"condition": {"test": "datum.col != 'k'", "value": 1.6}, "value": 1}}},
{"data": {"name": "edges"}, "transform": [{"lookup": "pa", "from": {"data": {"name": "nD"}, "key": "n", "fields": ["ll", "col"]}}, {"lookup": "ch", "from": {"data": {"name": "nD"}, "key": "n", "fields": ["ll", "y"]}, "as": ["cll", "y"]}], "mark": {"type": "rule"}, "encoding": {"x2": {"field": "cll"}, "strokeWidth": {"condition": {"test": "datum.col != 'k'", "value": 1.6}, "value": 1}}},
{"data": {"name": "edges"}, "transform": [{"lookup": "ch", "from": {"data": {"name": "nD"}, "key": "n", "fields": ["cut", "ll", "y", "col"]}, "as": ["ll", "cll", "y", "col"]}, {"filter": "isValid(datum.ll)"}], "mark": {"type": "rule", "strokeWidth": 1.6}, "encoding": {"x2": {"field": "cll"}}},
{"data": {"name": "nD"}, "mark": {"type": "circle", "size": 10, "opacity": 1}},
{"data": {"name": "nD"}, "transform": [{"filter": "isValid(datum.s)"}], "mark": {"type": "text", "align": "right", "baseline": "middle", "dx": -1.5, "dy": -2, "fontSize": 10.5, "font": "Liberation Sans"}, "encoding": {"text": {"field": "s"}, "color": {"value": "#000000"}}},
{"data": {"name": "nD"}, "transform": [{"filter": "isValid(datum.t)"}], "mark": {"type": "text", "align": "left", "baseline": "middle", "dx": 41.6, "fontSize": 13, "font": "Liberation Sans"}, "encoding": {"text": {"field": "t"}}}
]
}
]
}
